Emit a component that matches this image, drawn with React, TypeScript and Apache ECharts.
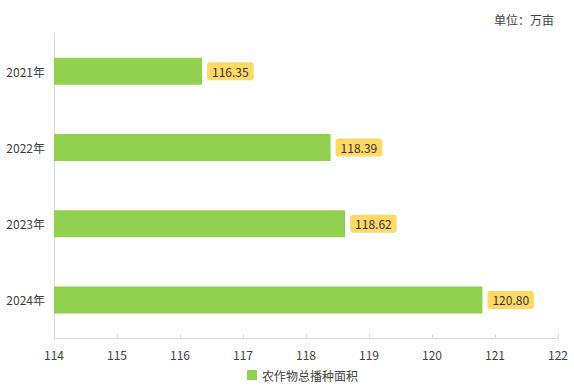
import React, { useEffect, useRef } from "react";
import * as echarts from "echarts";

const categories = ["2021年", "2022年", "2023年", "2024年"];
const values = [116.35, 118.39, 118.62, 120.8];
const seriesName = "农作物总播种面积";
const unitText = "单位：万亩";

export default function App() {
  const ref = useRef<HTMLDivElement>(null);
  useEffect(() => {
    if (!ref.current) return;
    const chart = echarts.init(ref.current, null, { renderer: "svg" });
    const font = "'Noto Sans CJK SC', sans-serif";
    chart.setOption({
      animation: false,
      textStyle: { fontFamily: font },
      title: {
        text: unitText,
        right: 15,
        top: 8,
        textStyle: { fontSize: 12, fontWeight: "normal", color: "#404040", fontFamily: font },
      },
      legend: {
        bottom: 5,
        left: 242,
        itemWidth: 10,
        itemHeight: 10,
        icon: "rect",
        itemGap: 10,
        textStyle: { fontSize: 12, color: "#404040", fontFamily: font },
        data: [seriesName],
      },
      grid: { left: 54, right: 16, top: 33, bottom: 53, containLabel: false },
      xAxis: {
        type: "value",
        min: 114,
        max: 122,
        interval: 1,
        axisLine: { show: true, lineStyle: { color: "#d9d9d9" } },
        axisTick: { show: true, inside: true, length: 4, lineStyle: { color: "#d9d9d9" } },
        splitLine: { show: false },
        axisLabel: { color: "#404040", fontSize: 12, margin: 10, fontFamily: font },
      },
      yAxis: {
        type: "category",
        data: categories,
        inverse: true,
        axisLine: { show: true, lineStyle: { color: "#d9d9d9" } },
        axisTick: { show: false },
        axisLabel: { color: "#404040", fontSize: 12, margin: 9, fontFamily: font },
      },
      series: [
        {
          name: seriesName,
          type: "bar",
          data: values,
          barWidth: 27,
          itemStyle: { color: "#92d050" },
          label: {
            show: true,
            position: "right",
            distance: 5,
            formatter: (p: any) => p.value.toFixed(2),
            backgroundColor: "#ffd966",
            borderRadius: 3,
            padding: [3, 5],
            color: "#333333",
            fontSize: 12,
            fontFamily: font,
          },
        },
      ],
    });
    return () => chart.dispose();
  }, []);
  return (
    <div
      ref={ref}
      style={{ position: "absolute", left: 0, top: 0, width: 574, height: 391 }}
    />
  );
}
